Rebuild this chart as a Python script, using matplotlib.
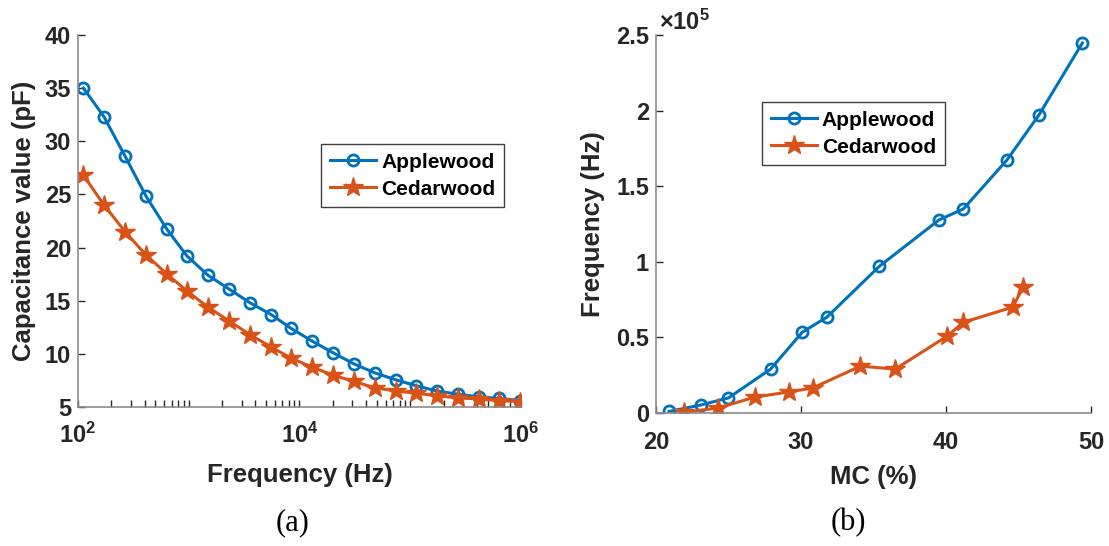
import numpy as np
import matplotlib
matplotlib.use("Agg")
import matplotlib.pyplot as plt
from matplotlib.ticker import FuncFormatter

plt.rcParams["font.family"] = ["Liberation Sans", "DejaVu Sans"]
plt.rcParams["font.weight"] = "bold"
plt.rcParams["axes.labelweight"] = "bold"
plt.rcParams["mathtext.fontset"] = "custom"
plt.rcParams["mathtext.bf"] = "Liberation Sans:bold"
plt.rcParams["mathtext.rm"] = "Liberation Sans:bold"

# (a) capacitance vs frequency
freq = [112, 172, 266, 411, 637, 966, 1490, 2310, 3580, 5540, 8390,
	13000, 20100, 31100, 48200, 74600, 113000, 175000, 271000, 419000, 635000, 985000]
cap_apple = [35.0, 32.3, 28.6, 24.85, 21.7, 19.2, 17.4, 16.1, 14.8, 13.7, 12.4,
	11.2, 10.1, 9.05, 8.2, 7.55, 7.0, 6.5, 6.2, 5.95, 5.8, 5.6]
cap_cedar = [26.8, 24.0, 21.5, 19.3, 17.5, 15.9, 14.4, 13.1, 11.8, 10.65, 9.6,
	8.75, 8.0, 7.4, 6.8, 6.5, 6.3, 6.05, 5.85, 5.75, 5.6, 5.5]

# (b) frequency vs moisture content
mc_apple = [20.9, 23.1, 25.0, 27.9, 30.1, 31.8, 35.4, 39.5, 41.2, 44.2, 46.4, 49.4]
f_apple = [1000, 5300, 10000, 29000, 53500, 63500, 97000, 127600, 135000, 167300, 197000, 244700]
mc_cedar = [21.9, 24.3, 26.8, 29.2, 30.8, 34.1, 36.5, 40.1, 41.2, 44.6, 45.3]
f_cedar = [500, 3300, 10500, 14000, 16500, 31000, 29000, 51000, 60000, 70000, 83000]

labels = ["Applewood", "Cedarwood"]
blue = "#0072BD"
orange = "#D95319"
axis_grey = "#8c8c8c"
text_col = "#262626"

fig = plt.figure(figsize=(11.09, 5.46), dpi=100)
ax1 = fig.add_axes([0.0703, 0.2546, 0.3995, 0.6813])
ax2 = fig.add_axes([0.5915, 0.2436, 0.3923, 0.6923])


def style(ax, xpad):
	for s in ["top", "right"]:
		ax.spines[s].set_visible(False)
	for s in ["left", "bottom"]:
		ax.spines[s].set_color(axis_grey)
		ax.spines[s].set_linewidth(1.2)
	ax.tick_params(which="both", direction="in", colors=text_col, labelsize=17)
	ax.tick_params(which="major", length=5, width=1)
	ax.tick_params(axis="y", pad=5)
	ax.tick_params(axis="x", pad=xpad)


def make_legend(ax, pos):
	leg = ax.legend(loc="upper left", bbox_to_anchor=pos, fontsize=15, fancybox=False,
		framealpha=1, edgecolor="#404040", handlelength=2.2, handletextpad=0.25,
		borderpad=0.42, labelspacing=0.38, borderaxespad=0)
	leg.get_frame().set_linewidth(1.0)
	for t in leg.get_texts():
		t.set_color("black")


# (a)
ax1.plot(freq, cap_apple, "-o", color=blue, lw=2.2, ms=8, mfc="none", mew=2, label=labels[0])
ax1.plot(freq, cap_cedar, "-*", color=orange, lw=2.2, ms=15, label=labels[1])
ax1.set_xscale("log")
ax1.set_xlim(100, 1e6)
ax1.set_ylim(5, 40)
ax1.set_yticks(np.arange(5, 41, 5))
# decade ticks labelled, all other log ticks unlabelled
xt = [k * 10.0 ** e for e in range(2, 6) for k in range(1, 10)] + [1e6]
xl = [r"$\mathbf{10^{%d}}$" % int(round(np.log10(v))) if v in (1e2, 1e4, 1e6) else "" for v in xt]
ax1.set_xticks(xt)
ax1.set_xticklabels(xl)
ax1.minorticks_off()
style(ax1, 11)
ax1.set_xlabel("Frequency (Hz)", fontsize=18.5, color=text_col, labelpad=11)
ax1.set_ylabel("Capacitance value (pF)", fontsize=18.5, color=text_col, labelpad=6)
make_legend(ax1, (0.549, 0.707))

# (b)
ax2.plot(mc_apple, f_apple, "-o", color=blue, lw=2.2, ms=8, mfc="none", mew=2, label=labels[0])
ax2.plot(mc_cedar, f_cedar, "-*", color=orange, lw=2.2, ms=15, label=labels[1])
ax2.set_xlim(20, 50)
ax2.set_ylim(0, 2.5e5)
ax2.set_xticks([20, 30, 40, 50])
ax2.set_yticks(np.arange(0, 2.51e5, 0.5e5))
ax2.yaxis.set_major_formatter(FuncFormatter(lambda v, p: "%g" % (v / 1e5)))
style(ax2, 13)
ax2.set_xlabel("MC (%)", fontsize=18.5, color=text_col, labelpad=8)
ax2.set_ylabel("Frequency (Hz)", fontsize=18.5, color=text_col, labelpad=8)
ax2.text(0.007, 1.0, r"$\times\mathbf{10^{5}}$", transform=ax2.transAxes, fontsize=17,
	color=text_col, ha="left", va="bottom")
make_legend(ax2, (0.244, 0.823))

fig.text(293 / 1109, 1 - 523 / 546, "(a)", fontsize=22, family="Liberation Serif",
	weight="normal", ha="center", va="center", color="black")
fig.text(848 / 1109, 1 - 523 / 546, "(b)", fontsize=22, family="Liberation Serif",
	weight="normal", ha="center", va="center", color="black")

fig.savefig("out.png", dpi=100)
